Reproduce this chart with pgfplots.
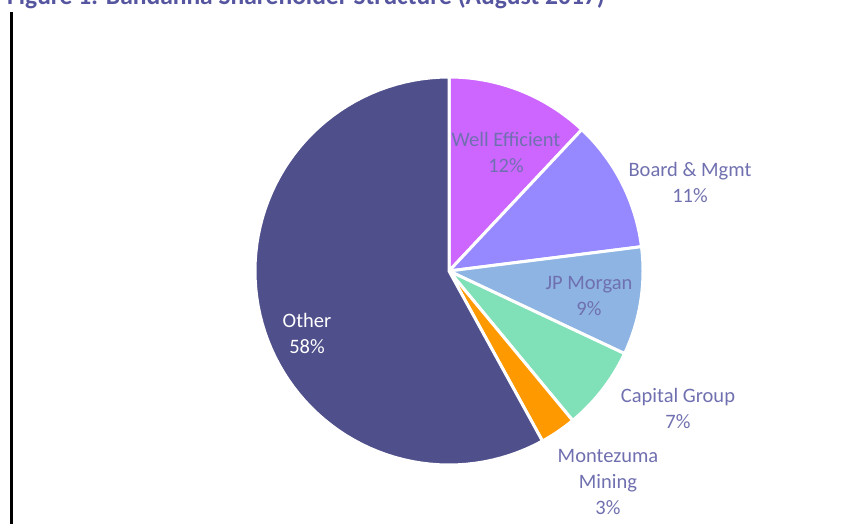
\documentclass[border=0pt]{standalone}
\usepackage{pgfplots}
\pgfplotsset{compat=1.18}
\usepackage{fontspec}
\setmainfont{Carlito}

% slice colours
\definecolor{cWell}{HTML}{CC66FF}
\definecolor{cBoard}{HTML}{9688FE}
\definecolor{cJPM}{HTML}{8DB4E2}
\definecolor{cCap}{HTML}{80E0B8}
\definecolor{cMont}{HTML}{FF9900}
\definecolor{cOther}{HTML}{4F4F8C}
\definecolor{lbl}{HTML}{7070B0}
\definecolor{ttl}{HTML}{5555A0}

\begin{document}
\begin{tikzpicture}
% shares in percent: Well Efficient, Board & Mgmt, JP Morgan, Capital Group, Montezuma Mining, Other
\def\vWell{12}\def\vBoard{11}\def\vJPM{9}\def\vCap{7}\def\vMont{3}\def\vOther{58}
\pgfmathsetmacro\aA{90}
\pgfmathsetmacro\aB{\aA-3.6*\vWell}
\pgfmathsetmacro\aC{\aB-3.6*\vBoard}
\pgfmathsetmacro\aD{\aC-3.6*\vJPM}
\pgfmathsetmacro\aE{\aD-3.6*\vCap}
\pgfmathsetmacro\aF{\aE-3.6*\vMont}
\pgfmathsetmacro\aG{\aF-3.6*\vOther}
\def\cx{449}\def\cy{-271}\def\R{194}
\begin{axis}[
    scale only axis,
    width=867pt, height=523pt,
    xmin=0, xmax=867, ymin=-523, ymax=0,
    hide axis, clip=false,
    every axis plot/.append style={draw=white, line width=3pt, line join=round, samples=80},
    ]
    \addplot[fill=cWell,  domain=\aB:\aA] ({\cx+\R*cos(x)},{\cy+\R*sin(x)}) -- (\cx,\cy) -- cycle;
    \addplot[fill=cBoard, domain=\aC:\aB] ({\cx+\R*cos(x)},{\cy+\R*sin(x)}) -- (\cx,\cy) -- cycle;
    \addplot[fill=cJPM,   domain=\aD:\aC] ({\cx+\R*cos(x)},{\cy+\R*sin(x)}) -- (\cx,\cy) -- cycle;
    \addplot[fill=cCap,   domain=\aE:\aD] ({\cx+\R*cos(x)},{\cy+\R*sin(x)}) -- (\cx,\cy) -- cycle;
    \addplot[fill=cMont,  domain=\aF:\aE] ({\cx+\R*cos(x)},{\cy+\R*sin(x)}) -- (\cx,\cy) -- cycle;
    \addplot[fill=cOther, domain=\aG:\aF] ({\cx+\R*cos(x)},{\cy+\R*sin(x)}) -- (\cx,\cy) -- cycle;

    % data labels
    \begin{scope}[every node/.style={font=\fontsize{20.5}{26}\selectfont, align=center, text=lbl}]
    \node at (axis cs:506,-152) {Well Efficient\\12\%};
    \node at (axis cs:690,-182) {Board \& Mgmt\\11\%};
    \node at (axis cs:589,-296) {JP Morgan\\9\%};
    \node at (axis cs:678,-408) {Capital Group\\7\%};
    \node at (axis cs:608,-482) {Montezuma\\Mining\\3\%};
    \node[text=white] at (axis cs:307,-333) {Other\\58\%};
    \end{scope}

    % left rule and cut-off caption
    \draw[black, line width=3pt] (axis cs:11.5,-12) -- (axis cs:11.5,-530);
    \node[anchor=base west, text=ttl, font=\bfseries\fontsize{25.5}{30}\selectfont, inner sep=0pt]
        at (axis cs:7,-5) {Figure 1: Bandanna Shareholder Structure (August 2017)};
\end{axis}
\pgfresetboundingbox
\path (current axis.south west) rectangle (current axis.north east);
\end{tikzpicture}
\end{document}
